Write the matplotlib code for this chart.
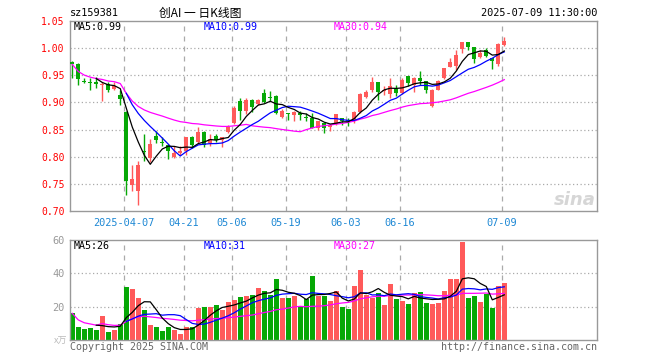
import matplotlib
matplotlib.use('Agg')
import matplotlib.pyplot as plt
import numpy as np
import pandas as pd

plt.rcParams['font.family'] = ['DejaVu Sans Mono', 'Noto Sans CJK SC']

# ---------------- data ----------------
opens = [0.975, 0.970, 0.938, 0.936, 0.937, 0.933, 0.934, 0.925, 0.914, 0.882,
         0.747, 0.736, 0.810, 0.798, 0.838, 0.826, 0.822, 0.800, 0.806, 0.810,
         0.836, 0.828, 0.845, 0.825, 0.839, 0.830, 0.845, 0.863, 0.903, 0.885,
         0.905, 0.897, 0.918, 0.910, 0.911, 0.874, 0.880, 0.876, 0.880, 0.872,
         0.871, 0.852, 0.862, 0.855, 0.860, 0.871, 0.867, 0.865, 0.883, 0.910,
         0.923, 0.937, 0.921, 0.915, 0.924, 0.917, 0.949, 0.933, 0.945, 0.940,
         0.893, 0.923, 0.945, 0.966, 0.967, 0.998, 1.011, 1.002, 0.983, 0.996,
         0.981, 0.971, 1.006]
highs = [0.977, 0.972, 0.945, 0.945, 0.946, 0.937, 0.937, 0.937, 0.923, 0.885,
         0.784, 0.792, 0.841, 0.833, 0.847, 0.836, 0.823, 0.819, 0.819, 0.836,
         0.838, 0.854, 0.847, 0.842, 0.841, 0.836, 0.859, 0.893, 0.909, 0.909,
         0.906, 0.907, 0.925, 0.921, 0.914, 0.887, 0.881, 0.884, 0.884, 0.880,
         0.880, 0.866, 0.863, 0.860, 0.879, 0.872, 0.871, 0.884, 0.917, 0.923,
         0.946, 0.937, 0.931, 0.945, 0.933, 0.945, 0.949, 0.946, 0.957, 0.940,
         0.924, 0.942, 0.964, 0.982, 0.997, 1.012, 1.011, 1.003, 0.996, 1.000,
         0.981, 1.009, 1.021]
lows = [0.945, 0.932, 0.936, 0.923, 0.926, 0.903, 0.919, 0.922, 0.896, 0.730,
        0.736, 0.711, 0.792, 0.790, 0.825, 0.819, 0.796, 0.798, 0.804, 0.804,
        0.816, 0.825, 0.818, 0.820, 0.828, 0.818, 0.843, 0.861, 0.868, 0.879,
        0.883, 0.896, 0.899, 0.902, 0.879, 0.871, 0.867, 0.865, 0.868, 0.865,
        0.852, 0.850, 0.844, 0.848, 0.859, 0.859, 0.856, 0.863, 0.880, 0.908,
        0.920, 0.904, 0.913, 0.909, 0.911, 0.916, 0.931, 0.920, 0.933, 0.918,
        0.891, 0.922, 0.943, 0.965, 0.960, 0.991, 0.996, 0.972, 0.981, 0.983,
        0.961, 0.967, 1.004]
closes = [0.970, 0.944, 0.937, 0.935, 0.934, 0.934, 0.922, 0.930, 0.907, 0.755,
          0.759, 0.784, 0.809, 0.823, 0.830, 0.825, 0.810, 0.807, 0.811, 0.836,
          0.822, 0.845, 0.822, 0.833, 0.831, 0.836, 0.855, 0.890, 0.885, 0.905,
          0.891, 0.905, 0.901, 0.909, 0.880, 0.885, 0.879, 0.882, 0.876, 0.871,
          0.853, 0.865, 0.853, 0.859, 0.879, 0.865, 0.866, 0.882, 0.916, 0.920,
          0.937, 0.920, 0.923, 0.931, 0.918, 0.942, 0.936, 0.945, 0.940, 0.922,
          0.923, 0.940, 0.964, 0.974, 0.988, 1.012, 1.003, 0.980, 0.991, 0.985,
          0.977, 1.008, 1.013]
volumes = [16.0, 8.1, 6.9, 7.5, 5.9, 14.7, 5.1, 5.9, 9.7, 31.7,
           30.5, 25.1, 17.8, 9.3, 8.1, 5.7, 8.1, 5.9, 3.8, 8.1,
           7.7, 19.0, 19.8, 19.8, 21.2, 17.8, 22.6, 23.8, 25.7, 26.7,
           27.3, 31.1, 29.3, 27.1, 36.6, 25.1, 25.1, 26.3, 20.2, 24.6,
           38.4, 26.7, 26.7, 23.2, 29.3, 19.6, 18.4, 32.3, 42.0, 26.9,
           25.1, 28.1, 20.8, 33.5, 24.4, 23.4, 21.4, 28.1, 28.7, 22.0,
           21.4, 22.0, 29.3, 36.6, 36.6, 59.0, 25.1, 26.3, 22.6, 27.5,
           19.0, 32.3, 34.1]
date_labels = ['2025-04-07', '04-21', '05-06', '05-19', '06-03', '06-16', '07-09']
date_index = [9, 19, 27, 36, 46, 55, 72]
price_ticks = [0.70, 0.75, 0.80, 0.85, 0.90, 0.95, 1.00, 1.05]
vol_ticks = [20, 40, 60]
price_ma_labels = ['MA5:0.99', 'MA10:0.99', 'MA30:0.94']
vol_ma_labels = ['MA5:26', 'MA10:31', 'MA30:27']
code = 'sz159381'
title = '创AI 一 日K线图'
timestamp = '2025-07-09 11:30:00'

# ---------------- derived ----------------
o = np.array(opens); h = np.array(highs); l = np.array(lows); c = np.array(closes)
v = np.array(volumes)
x = np.arange(len(c))
up = c >= o
RED = '#FF5A5A'
GREEN = '#06A806'
cols = np.where(up, RED, GREEN)
cs = pd.Series(c); vs = pd.Series(v)
ma5 = cs.rolling(5).mean(); ma10 = cs.rolling(10).mean(); ma30 = cs.rolling(30, min_periods=1).mean()
vma5 = vs.rolling(5).mean(); vma10 = vs.rolling(10).mean(); vma30 = vs.rolling(30, min_periods=1).mean()

W, H = 660, 360
fig = plt.figure(figsize=(6.6, 3.6), dpi=100)

def axrect(l_, t_, r_, b_):
    return [l_ / W, 1 - b_ / H, (r_ - l_) / W, (b_ - t_) / H]

def ftext(px, py, s, **kw):
    fig.text(px / W, 1 - py / H, s, **kw)

ax = fig.add_axes(axrect(70, 21, 597, 211))
axv = fig.add_axes(axrect(70, 240, 597, 340))

xmin, xmax = -0.38, 87.45
FRAME = '#999999'
GRID = '#AAAAAA'
for a in (ax, axv):
    a.set_xlim(xmin, xmax)
    for s in a.spines.values():
        s.set_color(FRAME); s.set_linewidth(1.0)
    a.tick_params(length=0)
    for xi in date_index:
        a.axvline(xi - 0.4, color=GRID, lw=0.9, ls=(0, (4, 4)), zorder=0)

# watermark
ftext(596, 209, 'sina', ha='right', va='bottom', fontsize=13, fontweight='bold',
      style='italic', color='#D6D6D6', family='DejaVu Sans', zorder=0)

# price panel
ax.set_ylim(0.70, 1.05)
ax.patch.set_alpha(0)
for p in price_ticks[1:-1]:
    ax.axhline(p, color=GRID, lw=0.9, ls=(0, (1, 2)), zorder=0)
ax.vlines(x, l, h, colors=cols, lw=1.0, zorder=2)
body_b = np.minimum(o, c)
body_h = np.maximum(np.abs(c - o), 0.0018)
ax.bar(x, body_h, bottom=body_b, width=0.72, color=cols, lw=0, zorder=3)
ax.plot(x, ma30, color='#FF00FF', lw=0.9, zorder=4)
ax.plot(x, ma10, color='#0000FF', lw=0.9, zorder=4)
ax.plot(x, ma5, color='#000000', lw=0.9, zorder=5)
ax.set_yticks(price_ticks)
ax.set_yticklabels(['%.2f' % p for p in price_ticks], color='#FF0000', fontsize=7)
ax.tick_params(axis='y', pad=4)
ax.set_xticks([xi - 0.4 for xi in date_index])
ax.set_xticklabels(date_labels, color='#1E88D4', fontsize=7.4)
ax.tick_params(axis='x', pad=5)

# volume panel
axv.set_ylim(0, 60)
for vv in vol_ticks[:-1]:
    axv.axhline(vv, color=GRID, lw=0.9, ls=(0, (1, 2)), zorder=0)
axv.bar(x, v, width=0.8, color=cols, lw=0, zorder=2)
axv.plot(x, vma30, color='#FF00FF', lw=0.9, zorder=4)
axv.plot(x, vma10, color='#0000FF', lw=0.9, zorder=4)
axv.plot(x, vma5, color='#000000', lw=0.9, zorder=5)
axv.set_yticks(vol_ticks)
axv.set_yticklabels([str(t) for t in vol_ticks], color='#999999', fontsize=7.4)
axv.tick_params(axis='y', pad=4)
axv.set_xticks([])

# texts
ftext(70, 13, code, ha='left', va='center', fontsize=7.4, color='#000000')
ftext(200, 13, title, ha='center', va='center', fontsize=8.5, color='#000000',
      family=['Noto Sans CJK SC', 'DejaVu Sans'])
ftext(597, 13, timestamp, ha='right', va='center', fontsize=7.4, color='#000000')

ftext(74, 27, price_ma_labels[0], ha='left', va='center', fontsize=7.2, color='#000000')
ftext(204, 27, price_ma_labels[1], ha='left', va='center', fontsize=7.2, color='#0000FF')
ftext(334, 27, price_ma_labels[2], ha='left', va='center', fontsize=7.2, color='#FF00FF')
ftext(74, 246, vol_ma_labels[0], ha='left', va='center', fontsize=7.2, color='#000000')
ftext(204, 246, vol_ma_labels[1], ha='left', va='center', fontsize=7.2, color='#0000FF')
ftext(334, 246, vol_ma_labels[2], ha='left', va='center', fontsize=7.2, color='#FF00FF')

ftext(67, 341, 'x万', ha='right', va='center', fontsize=6.5, color='#BBBBBB',
      family=['Noto Sans CJK SC', 'DejaVu Sans'])
ftext(70, 347, 'Copyright 2025 SINA.COM', ha='left', va='center', fontsize=7.2, color='#666666')
ftext(597, 347, 'http://finance.sina.com.cn', ha='right', va='center', fontsize=7.2, color='#666666')

fig.savefig('out.png', dpi=100)
